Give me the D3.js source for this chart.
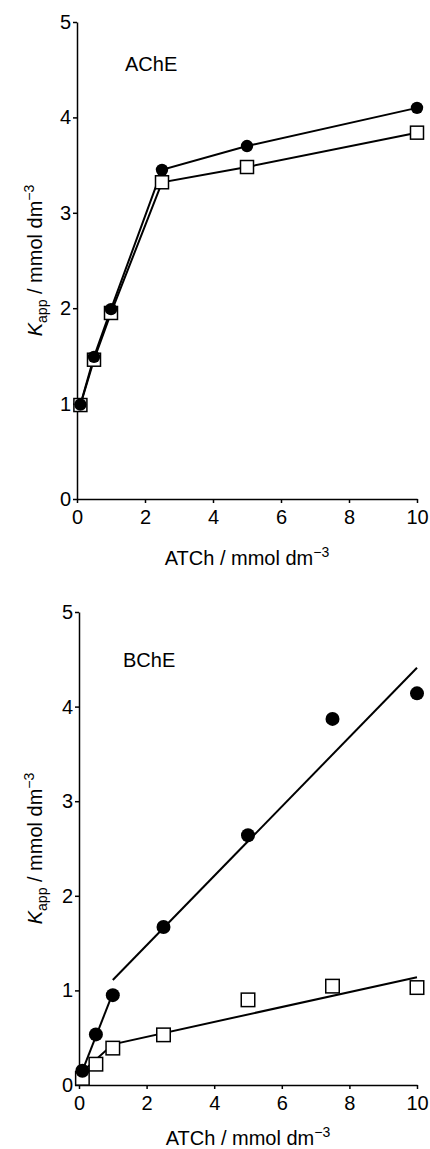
<!DOCTYPE html>
<html>
<head>
<meta charset="utf-8">
<script src="https://cdn.jsdelivr.net/npm/d3@7"></script>
<style>
  html, body { margin: 0; padding: 0; background: #fff; }
  svg { display: block; font-family: "Liberation Sans", Arial, sans-serif; }
</style>
</head>
<body>
<svg id="chart" width="430" height="1149"></svg>
<script>
// AChE panel
const acheX = [0.1, 0.5, 1, 2.5, 5, 10];
const acheCircle = [0.99, 1.49, 1.99, 3.45, 3.70, 4.10];
const acheSquare = [0.985, 1.46, 1.95, 3.32, 3.48, 3.84];

// BChE panel
const bcheX = [0.1, 0.5, 1, 2.5, 5, 7.5, 10];
const bcheCircle = [0.15, 0.535, 0.95, 1.67, 2.64, 3.87, 4.14];
const bcheSquare = [0.07, 0.22, 0.39, 0.53, 0.90, 1.045, 1.03];

// fitted lines (BChE)
const bcheCircleFitLow = [[0.1, 0.15], [1, 0.97]];
const bcheCircleFitHigh = [[1, 1.11], [10, 4.41]];
const bcheSquareFit = [[0.1, 0.14], [1, 0.43], [10, 1.14]];

const xTicks = [0, 2, 4, 6, 8, 10];
const yTicks = [0, 1, 2, 3, 4, 5];

const svg = d3.select('#chart');

function drawPanel(opt) {
  const x = d3.scaleLinear().domain([0, 10]).range([opt.left, opt.right]);
  const y = d3.scaleLinear().domain([0, 5]).range([opt.bottom, opt.top]);
  const g = svg.append('g');

  // axes
  const xa = g.append('g')
    .attr('transform', `translate(0,${opt.bottom})`)
    .call(d3.axisBottom(x).tickValues(xTicks).tickFormat(d3.format('d'))
      .tickSize(4).tickSizeOuter(0).tickPadding(7));
  const ya = g.append('g')
    .attr('transform', `translate(${opt.left},0)`)
    .call(d3.axisLeft(y).tickValues(yTicks).tickFormat(d3.format('d'))
      .tickSize(4).tickSizeOuter(0).tickPadding(2));
  [xa, ya].forEach(a => {
    a.selectAll('path, line').attr('stroke', '#000').attr('stroke-width', 1.5);
    a.selectAll('text').attr('fill', '#000').style('font-size', '20px')
      .style('font-family', '"Liberation Sans", Arial, sans-serif');
  });

  // x title
  const xt = g.append('text')
    .attr('x', (opt.left + opt.right) / 2)
    .attr('y', opt.bottom + opt.titleGap)
    .attr('text-anchor', 'middle')
    .style('font-size', '20px');
  xt.append('tspan').text('ATCh /  mmol dm');
  xt.append('tspan').attr('dy', -8).style('font-size', '14px').text('\u22123');

  // y title
  const yt = g.append('text')
    .attr('transform', `translate(42,${(opt.top + opt.bottom) / 2}) rotate(-90)`)
    .attr('text-anchor', 'middle')
    .style('font-size', '20px');
  yt.append('tspan').style('font-style', 'italic').text('K');
  yt.append('tspan').attr('dy', 5).style('font-size', '14px').text('app');
  yt.append('tspan').attr('dy', -5).text(' / mmol dm');
  yt.append('tspan').attr('dy', -8).style('font-size', '14px').text('\u22123');

  // panel label
  g.append('text')
    .attr('x', opt.labelX)
    .attr('y', y(opt.labelY))
    .style('font-size', '20px')
    .text(opt.label);

  return { g, x, y };
}

const line = (x, y) => d3.line().x(d => x(d[0])).y(d => y(d[1]));

function drawMarkers(g, x, y, xs, ys, type, size) {
  const pts = xs.map((v, i) => [v, ys[i]]);
  if (type === 'circle') {
    g.selectAll(null).data(pts).enter().append('circle')
      .attr('cx', d => x(d[0])).attr('cy', d => y(d[1]))
      .attr('r', size).attr('fill', '#000');
  } else {
    g.selectAll(null).data(pts).enter().append('rect')
      .attr('x', d => x(d[0]) - size / 2).attr('y', d => y(d[1]) - size / 2)
      .attr('width', size).attr('height', size)
      .attr('fill', '#fff').attr('stroke', '#000').attr('stroke-width', 1.5);
  }
}

// top panel
const p1 = drawPanel({ left: 77, right: 417, top: 22, bottom: 499, titleGap: 66,
  label: 'AChE', labelX: 125, labelY: 4.49 });
[acheSquare, acheCircle].forEach(vals => {
  p1.g.append('path')
    .datum(acheX.map((v, i) => [v, vals[i]]))
    .attr('d', line(p1.x, p1.y))
    .attr('fill', 'none').attr('stroke', '#000').attr('stroke-width', 2);
});
drawMarkers(p1.g, p1.x, p1.y, acheX, acheSquare, 'square', 13);
drawMarkers(p1.g, p1.x, p1.y, acheX, acheCircle, 'circle', 6.2);

// bottom panel
const p2 = drawPanel({ left: 79, right: 417, top: 612, bottom: 1085, titleGap: 60,
  label: 'BChE', labelX: 123, labelY: 4.42 });
[bcheSquareFit, bcheCircleFitLow, bcheCircleFitHigh].forEach(seg => {
  p2.g.append('path')
    .datum(seg)
    .attr('d', line(p2.x, p2.y))
    .attr('fill', 'none').attr('stroke', '#000').attr('stroke-width', 2);
});
drawMarkers(p2.g, p2.x, p2.y, bcheX, bcheSquare, 'square', 13.5);
drawMarkers(p2.g, p2.x, p2.y, bcheX, bcheCircle, 'circle', 7);
</script>
</body>
</html>
